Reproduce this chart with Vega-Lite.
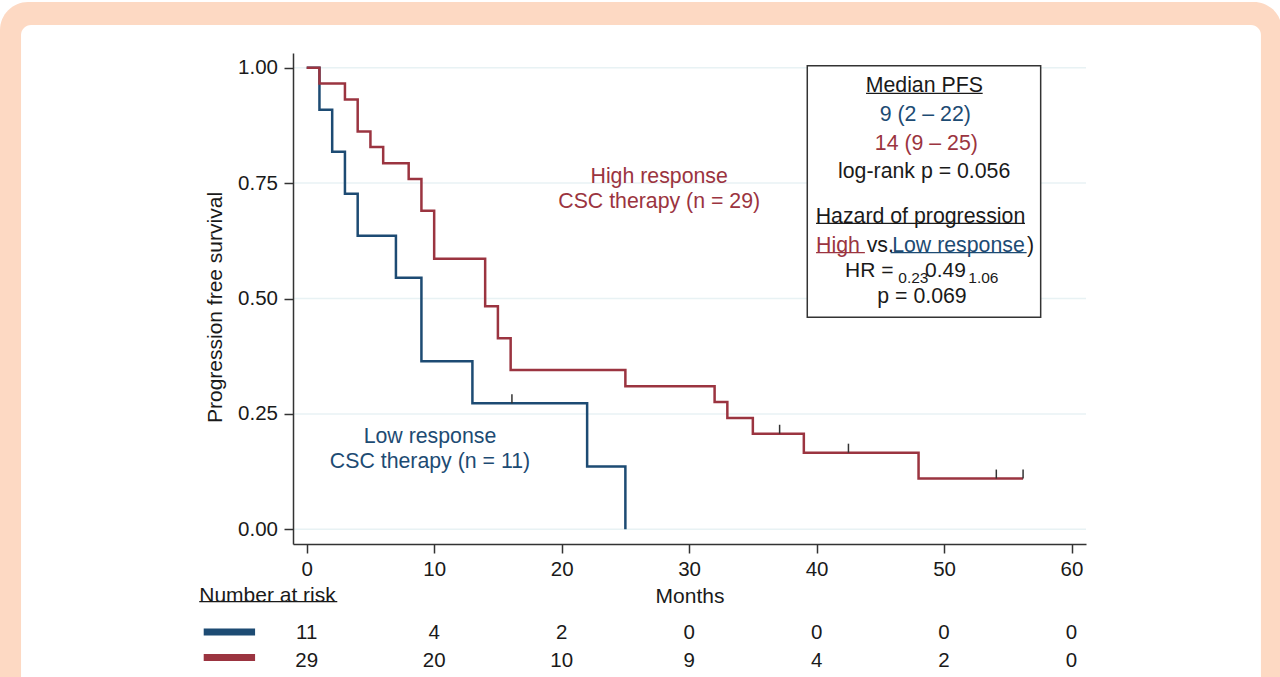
{
  "$schema": "https://vega.github.io/schema/vega-lite/v6.json",
  "width": 793,
  "height": 491,
  "autosize": {"type": "none"},
  "padding": {"left": 293, "top": 53, "right": 194, "bottom": 133},
  "background": "white",
  "config": {
    "view": {"stroke": null},
    "font": "Liberation Sans",
    "text": {"font": "Liberation Sans"},
    "axis": {"labelFont": "Liberation Sans", "titleFont": "Liberation Sans"}
  },
  "datasets": {
    "one": [{"k": 1}],
    "km": [
      {"x": 0, "y": 1, "grp": "low"},
      {"x": 1, "y": 0.909, "grp": "low"},
      {"x": 2, "y": 0.818, "grp": "low"},
      {"x": 3, "y": 0.727, "grp": "low"},
      {"x": 4, "y": 0.636, "grp": "low"},
      {"x": 7, "y": 0.545, "grp": "low"},
      {"x": 9, "y": 0.364, "grp": "low"},
      {"x": 13, "y": 0.273, "grp": "low"},
      {"x": 22, "y": 0.136, "grp": "low"},
      {"x": 25, "y": 0, "grp": "low"},
      {"x": 0, "y": 1, "grp": "high"},
      {"x": 1, "y": 0.966, "grp": "high"},
      {"x": 3, "y": 0.931, "grp": "high"},
      {"x": 4, "y": 0.862, "grp": "high"},
      {"x": 5, "y": 0.828, "grp": "high"},
      {"x": 6, "y": 0.793, "grp": "high"},
      {"x": 8, "y": 0.759, "grp": "high"},
      {"x": 9, "y": 0.69, "grp": "high"},
      {"x": 10, "y": 0.586, "grp": "high"},
      {"x": 14, "y": 0.483, "grp": "high"},
      {"x": 15, "y": 0.414, "grp": "high"},
      {"x": 16, "y": 0.345, "grp": "high"},
      {"x": 25, "y": 0.31, "grp": "high"},
      {"x": 32, "y": 0.276, "grp": "high"},
      {"x": 33, "y": 0.241, "grp": "high"},
      {"x": 35, "y": 0.207, "grp": "high"},
      {"x": 39, "y": 0.166, "grp": "high"},
      {"x": 48, "y": 0.11, "grp": "high"},
      {"x": 56.2, "y": 0.11, "grp": "high"}
    ],
    "censor": [
      {"x": 16.1, "y": 0.273, "grp": "low"},
      {"x": 37.1, "y": 0.207, "grp": "high"},
      {"x": 42.5, "y": 0.166, "grp": "high"},
      {"x": 54.1, "y": 0.11, "grp": "high"},
      {"x": 56.2, "y": 0.11, "grp": "high"}
    ],
    "grid": [{"y": 0}, {"y": 0.25}, {"y": 0.5}, {"y": 0.75}, {"y": 1}],
    "risk": [
      {"x": 0, "grp": "low", "n": 11},
      {"x": 10, "grp": "low", "n": 4},
      {"x": 20, "grp": "low", "n": 2},
      {"x": 30, "grp": "low", "n": 0},
      {"x": 40, "grp": "low", "n": 0},
      {"x": 50, "grp": "low", "n": 0},
      {"x": 60, "grp": "low", "n": 0},
      {"x": 0, "grp": "high", "n": 29},
      {"x": 10, "grp": "high", "n": 20},
      {"x": 20, "grp": "high", "n": 10},
      {"x": 30, "grp": "high", "n": 9},
      {"x": 40, "grp": "high", "n": 4},
      {"x": 50, "grp": "high", "n": 2},
      {"x": 60, "grp": "high", "n": 0}
    ],
    "labels": [
      {"x": 48.45, "y": 0.9593, "text": "Median PFS", "grp": "none"},
      {"x": 48.53, "y": 0.8967, "text": "9 (2 – 22)", "grp": "low"},
      {"x": 48.61, "y": 0.8336, "text": "14 (9 – 25)", "grp": "high"},
      {"x": 48.44, "y": 0.7732, "text": "log-rank p = 0.056", "grp": "none"},
      {"x": 48.15, "y": 0.6757, "text": "Hazard of progression", "grp": "none"},
      {"x": 48.27, "y": 0.5022, "text": "p = 0.069", "grp": "none"},
      {"x": 27.65, "y": 0.7624, "text": "High response", "grp": "high"},
      {"x": 27.65, "y": 0.708, "text": "CSC therapy (n = 29)", "grp": "high"},
      {"x": 9.67, "y": 0.2006, "text": "Low response", "grp": "low"},
      {"x": 9.67, "y": 0.1449, "text": "CSC therapy (n = 11)", "grp": "low"}
    ],
    "leftlabels": [
      {"x": 42.23, "y": 0.5585, "text": "HR =", "grp": "none"},
      {"x": 48.51, "y": 0.5585, "text": "0.49", "grp": "none"},
      {"x": -8.43, "y": -0.1438, "text": "Number at risk", "grp": "none"}
    ],
    "vsline": [
      {"x": 39.96, "y": 0.614, "text": "High", "grp": "high"},
      {"x": 43.93, "y": 0.614, "text": "vs.", "grp": "none"},
      {"x": 45.93, "y": 0.614, "text": "Low response", "grp": "low"},
      {"x": 56.5, "y": 0.614, "text": ")", "grp": "none"}
    ],
    "subs": [
      {"x": 46.41, "y": 0.5448, "text": "0.23", "grp": "none"},
      {"x": 51.9, "y": 0.5448, "text": "1.06", "grp": "none"}
    ],
    "underlines": [
      {"x": 43.88, "x2": 53.03, "y": 0.9445, "grp": "none"},
      {"x": 39.96, "x2": 56.35, "y": 0.6629, "grp": "none"},
      {"x": 39.96, "x2": 43.79, "y": 0.5992, "grp": "high"},
      {"x": 45.81, "x2": 56.48, "y": 0.5992, "grp": "low"},
      {"x": -8.43, "x2": 2.4, "y": -0.1568, "grp": "none"}
    ],
    "swatches": [
      {"x": -8.08, "x2": -4.05, "y": -0.2225, "grp": "low"},
      {"x": -8.08, "x2": -4.05, "y": -0.2777, "grp": "high"}
    ]
  },
  "layer": [
    {
      "data": {"name": "one"},
      "mark": {"type": "rect", "cornerRadius": 28, "fill": "#FDD9C3"},
      "encoding": {
        "x": {"datum": -24.06, "type": "quantitative"},
        "x2": {"datum": 76.5},
        "y": {"datum": 1.1423, "type": "quantitative"},
        "y2": {"datum": -0.5}
      }
    },
    {
      "data": {"name": "one"},
      "mark": {"type": "rect", "cornerRadius": 10, "fill": "#ffffff"},
      "encoding": {
        "x": {"datum": -22.41, "type": "quantitative"},
        "x2": {"datum": 74.86},
        "y": {"datum": 1.0925, "type": "quantitative"},
        "y2": {"datum": -0.45}
      }
    },
    {
      "data": {"name": "grid"},
      "mark": {"type": "rule", "color": "#E8F2F4", "strokeWidth": 1.5},
      "encoding": {
        "y": {"field": "y", "type": "quantitative"}
      }
    },
    {
      "data": {"name": "one"},
      "mark": {"type": "rect", "fill": "#ffffff", "stroke": "#333333", "strokeWidth": 1.5},
      "encoding": {
        "x": {"datum": 39.27, "type": "quantitative"},
        "x2": {"datum": 57.58},
        "y": {"datum": 1.0043, "type": "quantitative"},
        "y2": {"datum": 0.4593}
      }
    },
    {
      "data": {"name": "km"},
      "transform": [{"filter": "datum.grp === 'low'"}],
      "mark": {"type": "line", "interpolate": "step-after", "strokeWidth": 2.5},
      "encoding": {
        "x": {
          "field": "x",
          "type": "quantitative",
          "scale": {"domain": [-1.0748, 61.136], "nice": false, "zero": false},
          "axis": {
            "zindex": 1,
            "values": [0, 10, 20, 30, 40, 50, 60],
            "title": "Months",
            "grid": false,
            "tickSize": 9,
            "tickWidth": 1.5,
            "tickColor": "#333333",
            "domainColor": "#333333",
            "domainWidth": 1.5,
            "labelFontSize": 20.5,
            "labelColor": "#1a1a1a",
            "labelPadding": 6,
            "labelFlush": false,
            "labelOverlap": false,
            "titleFontSize": 21,
            "titleFontWeight": "normal",
            "titleColor": "#1a1a1a",
            "titlePadding": 6
          }
        },
        "y": {
          "field": "y",
          "type": "quantitative",
          "scale": {"domain": [-0.0318, 1.0318], "nice": false, "zero": false},
          "axis": {
            "zindex": 1,
            "values": [0, 0.25, 0.5, 0.75, 1],
            "format": ".2f",
            "title": "Progression free survival",
            "grid": false,
            "tickSize": 9,
            "tickWidth": 1.5,
            "tickColor": "#333333",
            "domainColor": "#333333",
            "domainWidth": 1.5,
            "labelFontSize": 20.5,
            "labelColor": "#1a1a1a",
            "labelPadding": 6.5,
            "titleFontSize": 21,
            "titleFontWeight": "normal",
            "titleColor": "#1a1a1a",
            "titlePadding": 12,
            "titleY": 254
          }
        },
        "color": {"field": "grp", "type": "nominal", "scale": {"domain": ["low", "high", "none"], "range": ["#1D4B73", "#9B3440", "#1a1a1a"]}, "legend": null}
      }
    },
    {
      "data": {"name": "km"},
      "transform": [{"filter": "datum.grp === 'high'"}],
      "mark": {"type": "line", "interpolate": "step-after", "strokeWidth": 2.5},
      "encoding": {
        "x": {"field": "x", "type": "quantitative"},
        "y": {"field": "y", "type": "quantitative"},
        "color": {"field": "grp", "type": "nominal", "legend": null}
      }
    },
    {
      "data": {"name": "censor"},
      "mark": {"type": "point", "shape": "M0,0L0,-2", "size": 81, "filled": false, "stroke": "#333333", "strokeWidth": 1.5, "opacity": 1},
      "encoding": {
        "x": {"field": "x", "type": "quantitative"},
        "y": {"field": "y", "type": "quantitative"}
      }
    },
    {
      "data": {"name": "labels"},
      "mark": {"type": "text", "align": "center", "baseline": "middle", "fontSize": 21.3},
      "encoding": {
        "x": {"field": "x", "type": "quantitative"},
        "y": {"field": "y", "type": "quantitative"},
        "text": {"field": "text"},
        "color": {"field": "grp", "type": "nominal", "legend": null}
      }
    },
    {
      "data": {"name": "leftlabels"},
      "mark": {"type": "text", "align": "left", "baseline": "middle", "fontSize": 21},
      "encoding": {
        "x": {"field": "x", "type": "quantitative"},
        "y": {"field": "y", "type": "quantitative"},
        "text": {"field": "text"},
        "color": {"field": "grp", "type": "nominal", "legend": null}
      }
    },
    {
      "data": {"name": "vsline"},
      "mark": {"type": "text", "align": "left", "baseline": "middle", "fontSize": 21.3},
      "encoding": {
        "x": {"field": "x", "type": "quantitative"},
        "y": {"field": "y", "type": "quantitative"},
        "text": {"field": "text"},
        "color": {"field": "grp", "type": "nominal", "legend": null}
      }
    },
    {
      "data": {"name": "subs"},
      "mark": {"type": "text", "align": "left", "baseline": "middle", "fontSize": 15.5},
      "encoding": {
        "x": {"field": "x", "type": "quantitative"},
        "y": {"field": "y", "type": "quantitative"},
        "text": {"field": "text"},
        "color": {"field": "grp", "type": "nominal", "legend": null}
      }
    },
    {
      "data": {"name": "underlines"},
      "mark": {"type": "rule", "strokeWidth": 1.3},
      "encoding": {
        "x": {"field": "x", "type": "quantitative"},
        "x2": {"field": "x2"},
        "y": {"field": "y", "type": "quantitative"},
        "color": {"field": "grp", "type": "nominal", "legend": null}
      }
    },
    {
      "data": {"name": "swatches"},
      "mark": {"type": "rule", "strokeWidth": 7},
      "encoding": {
        "x": {"field": "x", "type": "quantitative"},
        "x2": {"field": "x2"},
        "y": {"field": "y", "type": "quantitative"},
        "color": {"field": "grp", "type": "nominal", "legend": null}
      }
    },
    {
      "data": {"name": "risk"},
      "transform": [{"filter": "datum.grp === 'low'"}],
      "mark": {"type": "text", "align": "center", "baseline": "middle", "fontSize": 20.5, "color": "#1a1a1a"},
      "encoding": {
        "x": {"field": "x", "type": "quantitative"},
        "y": {"datum": -0.2236, "type": "quantitative"},
        "text": {"field": "n"}
      }
    },
    {
      "data": {"name": "risk"},
      "transform": [{"filter": "datum.grp === 'high'"}],
      "mark": {"type": "text", "align": "center", "baseline": "middle", "fontSize": 20.5, "color": "#1a1a1a"},
      "encoding": {
        "x": {"field": "x", "type": "quantitative"},
        "y": {"datum": -0.2851, "type": "quantitative"},
        "text": {"field": "n"}
      }
    }
  ]
}
